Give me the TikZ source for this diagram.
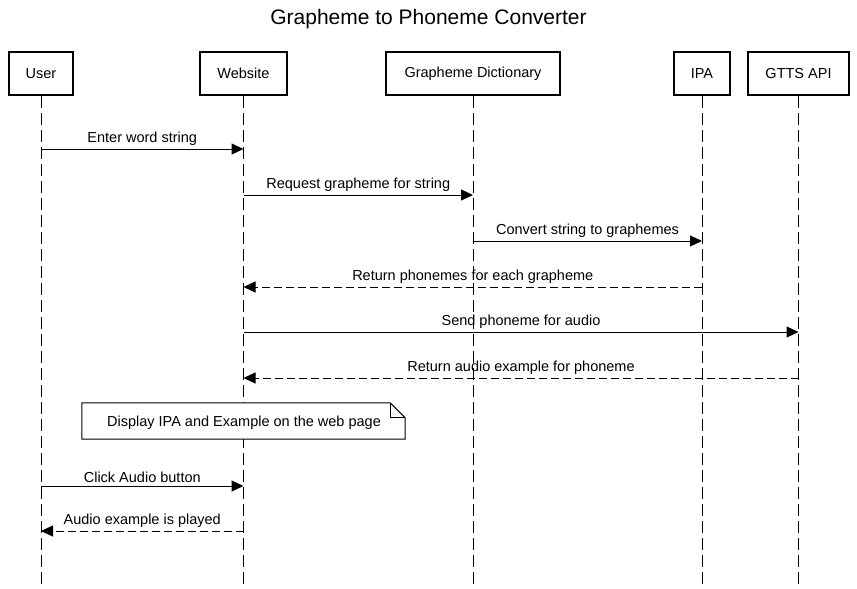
\documentclass[tikz,border=0pt]{standalone}
\usepackage{fontspec}
\setmainfont{Liberation Sans}
\usetikzlibrary{arrows.meta}
\begin{document}
\begin{tikzpicture}[x=1pt,y=-1pt,
  actor/.style={draw, line width=2pt, fill=white, minimum height=43pt, inner sep=0pt, font=\fontsize{14.5}{16}\selectfont},
  life/.style={line width=1pt, dash pattern=on 12pt off 5pt},
  msg/.style={line width=1pt, -{Triangle[length=12pt,width=11pt]}},
  ret/.style={msg, dash pattern=on 8pt off 4pt},
  lbl/.style={midway, anchor=south, inner sep=0pt, yshift=3pt, font=\fontsize{14.5}{16}\selectfont}]
\useasboundingbox (0,0) rectangle (857,589);
\node[font=\fontsize{21}{24}\selectfont] (title) at (428.5,19) {Grapheme to Phoneme Converter};
\node[actor, minimum width=64pt] (user) at (41,73.5) {User};
\node[actor, minimum width=87pt] (web) at (243.5,73.5) {Website};
\node[actor, minimum width=174pt] (gd) at (473,73.5) {Grapheme Dictionary};
\node[actor, minimum width=56pt] (ipa) at (702,73.5) {IPA};
\node[actor, minimum width=101pt] (gtts) at (798.5,73.5) {GTTS API};
\coordinate (userEnd) at (41,589);
\coordinate (webEnd) at (243.5,589);
\coordinate (gdEnd) at (473,589);
\coordinate (ipaEnd) at (702,589);
\coordinate (gttsEnd) at (798.5,589);
\draw[life] (user.south) -- (userEnd);
\draw[life] (web.south) -- (webEnd);
\draw[life] (gd.south) -- (gdEnd);
\draw[life] (ipa.south) -- (ipaEnd);
\draw[life] (gtts.south) -- (gttsEnd);
\draw[msg] (user.center |- 0,149) -- (web.center |- 0,149) node[lbl] {Enter word string};
\draw[msg] (web.center |- 0,195) -- (gd.center |- 0,195) node[lbl] {Request grapheme for string};
\draw[msg] (gd.center |- 0,241) -- (ipa.center |- 0,241) node[lbl] {Convert string to graphemes};
\draw[ret] (ipa.center |- 0,287) -- (web.center |- 0,287) node[lbl] {Return phonemes for each grapheme};
\draw[msg] (web.center |- 0,332) -- (gtts.center |- 0,332) node[lbl] {Send phoneme for audio};
\draw[ret] (gtts.center |- 0,378) -- (web.center |- 0,378) node[lbl] {Return audio example for phoneme};
\node[minimum width=323pt, minimum height=36pt, inner sep=0pt] (note) at (243.5,421) {};
\draw[line width=1pt, fill=white] (note.north west) -- ([xshift=-15pt]note.north east) -- ([yshift=-15pt]note.north east) -- (note.south east) -- (note.south west) -- cycle;
\draw[line width=1pt] ([xshift=-15pt]note.north east) -- ([xshift=-15pt,yshift=-15pt]note.north east) -- ([yshift=-15pt]note.north east);
\node[font=\fontsize{14.5}{16}\selectfont, inner sep=0pt] (notetext) at (244,423) {Display IPA and Example on the web page};
\draw[msg] (user.center |- 0,486) -- (web.center |- 0,486) node[lbl] {Click Audio button};
\draw[ret] (web.center |- 0,531) -- (user.center |- 0,531) node[lbl] {Audio example is played};
\end{tikzpicture}
\end{document}
